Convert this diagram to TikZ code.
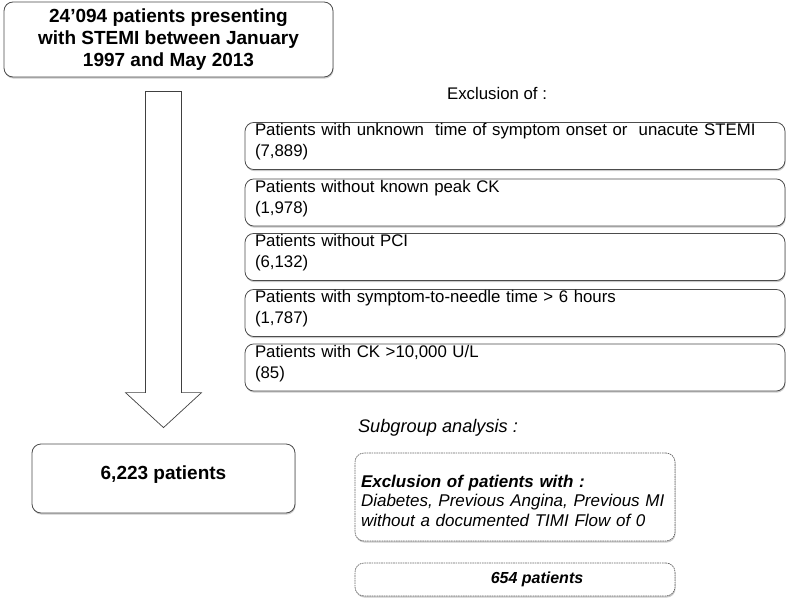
\documentclass[tikz,border=0pt]{standalone}
\usepackage{fontspec}
\setmainfont{Liberation Sans}
\usetikzlibrary{shadows,calc}

\begin{document}
\begin{tikzpicture}
  [x=1pt,y=-1pt,
   box/.style={draw=black!70,line width=0.8pt,rounded corners=9pt,fill=white,
     drop shadow={shadow xshift=0.6pt,shadow yshift=-1.6pt,fill=black!45,opacity=0.45}},
   mainbox/.style={box,font=\bfseries\fontsize{19}{22}\selectfont,align=center},
   exclbox/.style={box,minimum width=540,minimum height=47,text width=520,align=left,
     inner xsep=10pt,inner ysep=1pt,text depth=33pt,font=\fontsize{16.8}{21}\selectfont},
   subbox/.style={box,draw=black!60,dash pattern=on 1.6pt off 0.8pt,line width=0.7pt,
     minimum width=320,font=\itshape\fontsize{17}{19.5}\selectfont},
   label/.style={inner sep=0pt}]
  \useasboundingbox (0,0) rectangle (789,602);

  \node[mainbox,minimum width=329,minimum height=75] (stemi) at (168.5,39.5)
    {24’094 patients presenting\\with STEMI between January\\1997 and May 2013};
  \node[mainbox,minimum width=263,minimum height=69,text depth=11pt] (total) at (163.5,478.5)
    {6,223 patients};

  \node[label,font=\fontsize{16.8}{21}\selectfont] (exhead) at (497,93) {Exclusion of :};
  \node[exclbox] (ex1) at (515,146)
    {Patients with unknown\ \ time of symptom onset or\ \ unacute STEMI\\(7,889)};
  \node[exclbox] (ex2) at (515,202.5) {Patients without known peak CK\\(1,978)};
  \node[exclbox] (ex3) at (515,257) {Patients without PCI\\(6,132)};
  \node[exclbox] (ex4) at (515,313) {Patients with symptom-to-needle time > 6 hours\\(1,787)};
  \node[exclbox] (ex5) at (515,367.5) {Patients with CK >10,000 U/L\\(85)};

  \node[label,font=\itshape\fontsize{18.2}{21}\selectfont] (subhead) at (438,428) {Subgroup analysis :};
  \node[subbox,minimum height=88,text width=308,align=left,inner xsep=6pt,
    text height=12.4pt,text depth=31.6pt] (subexcl) at (515,497)
    {\textbf{Exclusion of patients with :}\\Diabetes, Previous Angina, Previous MI\\without a documented TIMI Flow of 0};
  \node[subbox,minimum height=33,font=\bfseries\itshape\fontsize{16}{19}\selectfont] (subtotal) at (515,579.5)
    {\hspace*{44pt}654 patients};

  \coordinate (atop) at ($(stemi.south -| total.north)+(0,14)$);
  \coordinate (atip) at ($(total.north)+(0,-16)$);
  \draw[draw=black!75,line width=0.7pt,fill=white]
    ($(atop)+(-18,0)$) -- ($(atop)+(18,0)$) -- ($(atip)+(18,-35)$) -- ($(atip)+(38,-35)$)
    -- (atip) -- ($(atip)+(-38,-35)$) -- ($(atip)+(-18,-35)$) -- cycle;
\end{tikzpicture}
\end{document}
